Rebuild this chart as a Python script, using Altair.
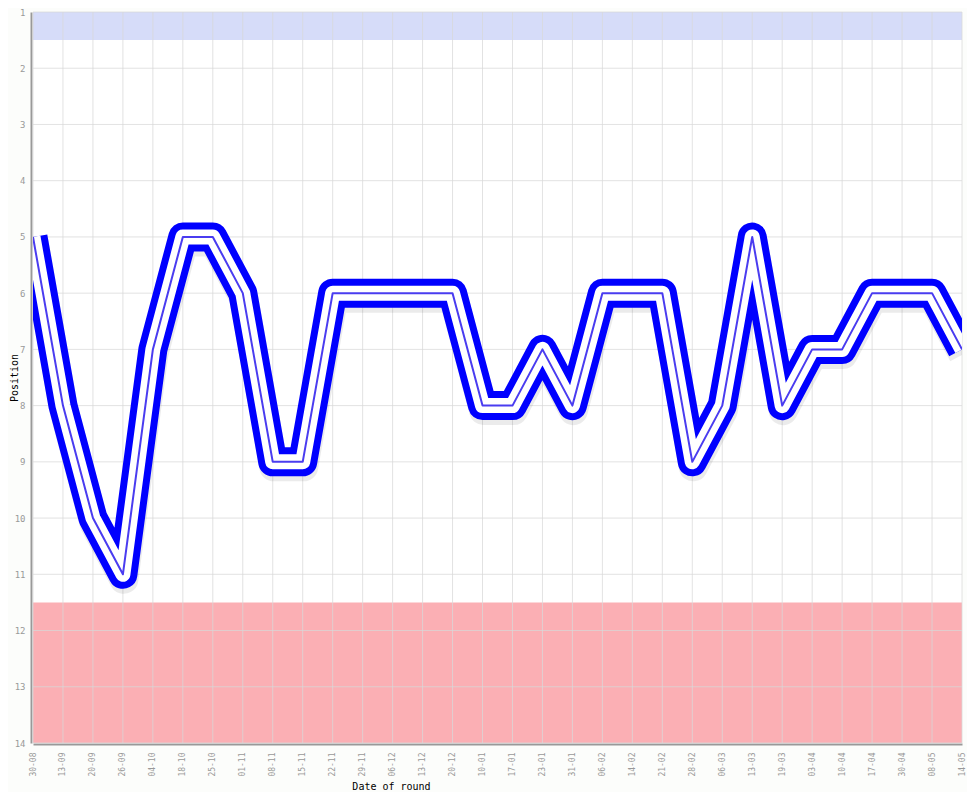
import altair as alt
import pandas as pd

dates = ["30-08", "13-09", "20-09", "26-09", "04-10", "18-10", "25-10", "01-11",
         "08-11", "15-11", "22-11", "29-11", "06-12", "13-12", "20-12", "10-01",
         "17-01", "23-01", "31-01", "06-02", "14-02", "21-02", "28-02", "06-03",
         "13-03", "19-03", "03-04", "10-04", "17-04", "30-04", "08-05", "14-05"]
positions = [5, 8, 10, 11, 7, 5, 5, 6,
             9, 9, 6, 6, 6, 6, 6, 8,
             8, 7, 8, 6, 6, 6, 9, 8,
             5, 8, 7, 7, 6, 6, 6, 7]
position_ticks = list(range(1, 15))
band_start = [1, 11.5]
band_end = [1.5, 14]
band_name = ["top", "bottom"]
band_colors = ["#d6dcf9", "#fbafb4"]

df = pd.DataFrame({"date": dates, "pos": positions})
grid_y = pd.DataFrame({"pos": position_ticks})
grid_x = pd.DataFrame({"date": dates})
bands = pd.DataFrame({"y": band_start, "y2": band_end, "band": band_name})

W, H = 929, 731
mono = "DejaVu Sans Mono"

x_scale = alt.Scale(type="point", domain=dates, padding=0)
y_scale = alt.Scale(domain=[1, 14], reverse=True, nice=False, zero=False)

x_enc = alt.X("date:N", scale=x_scale, sort=dates,
              axis=alt.Axis(title="Date of round", labelAngle=270, labelFont=mono,
                            labelFontSize=8, labelColor="#999999", ticks=False,
                            grid=False, domainColor="#999999", domainWidth=2, offset=1,
                            labelPadding=8, titleFont=mono, titleFontSize=10,
                            titleFontWeight="normal", titleColor="#000000",
                            titleX=358, titleY=42, titleBaseline="middle",
                            titleAlign="center"))
y_enc = alt.Y("pos:Q", scale=y_scale,
              axis=alt.Axis(title="Position", values=position_ticks, format="d",
                            labelFont=mono,
                            labelFontSize=9, labelColor="#999999", ticks=False,
                            grid=False, domainColor="#999999", domainWidth=2, offset=2,
                            labelPadding=6, titleFont=mono, titleFontSize=10,
                            titleFontWeight="normal", titleColor="#000000",
                            titleAngle=270, titleX=-17, titleY=H / 2,
                            titleAlign="center", titleBaseline="middle"))

band_layer = alt.Chart(bands).mark_rect().encode(
    x=alt.value(0), x2=alt.value("width"),
    y=alt.Y("y:Q", scale=y_scale),
    y2="y2:Q",
    color=alt.Color("band:N", scale=alt.Scale(domain=band_name, range=band_colors), legend=None),
)

hgrid = alt.Chart(grid_y).mark_rule(color="#d8d8d8", opacity=0.75, strokeWidth=1).encode(
    y=alt.Y("pos:Q", scale=y_scale))
vgrid = alt.Chart(grid_x).mark_rule(color="#d8d8d8", opacity=0.75, strokeWidth=1).encode(
    x=alt.X("date:N", scale=x_scale, sort=dates))

base = alt.Chart(df).encode(x=x_enc, y=y_enc)
shadow = base.mark_line(color="#000000", opacity=0.08, strokeWidth=29, strokeJoin="round",
                        clip=True, yOffset=5, xOffset=1)
outer = base.mark_line(color="#0000ff", strokeWidth=29, strokeJoin="round", clip=True)
inner = base.mark_line(color="#ffffff", strokeWidth=15, strokeJoin="round", clip=True)
center = base.mark_line(color="#4a3cf0", strokeWidth=2, strokeJoin="round", clip=True)

chart = alt.layer(band_layer, hgrid, vgrid, shadow, outer, inner, center).properties(
    width=W, height=H,
    autosize=alt.AutoSizeParams(type="none"),
    padding={"left": 25, "top": 4, "right": 5, "bottom": 49},
    background="#fcfdfb",
).configure_view(fill="#ffffff", stroke=None)

chart.save("out.html", embed_options={"renderer": "svg", "actions": False})
